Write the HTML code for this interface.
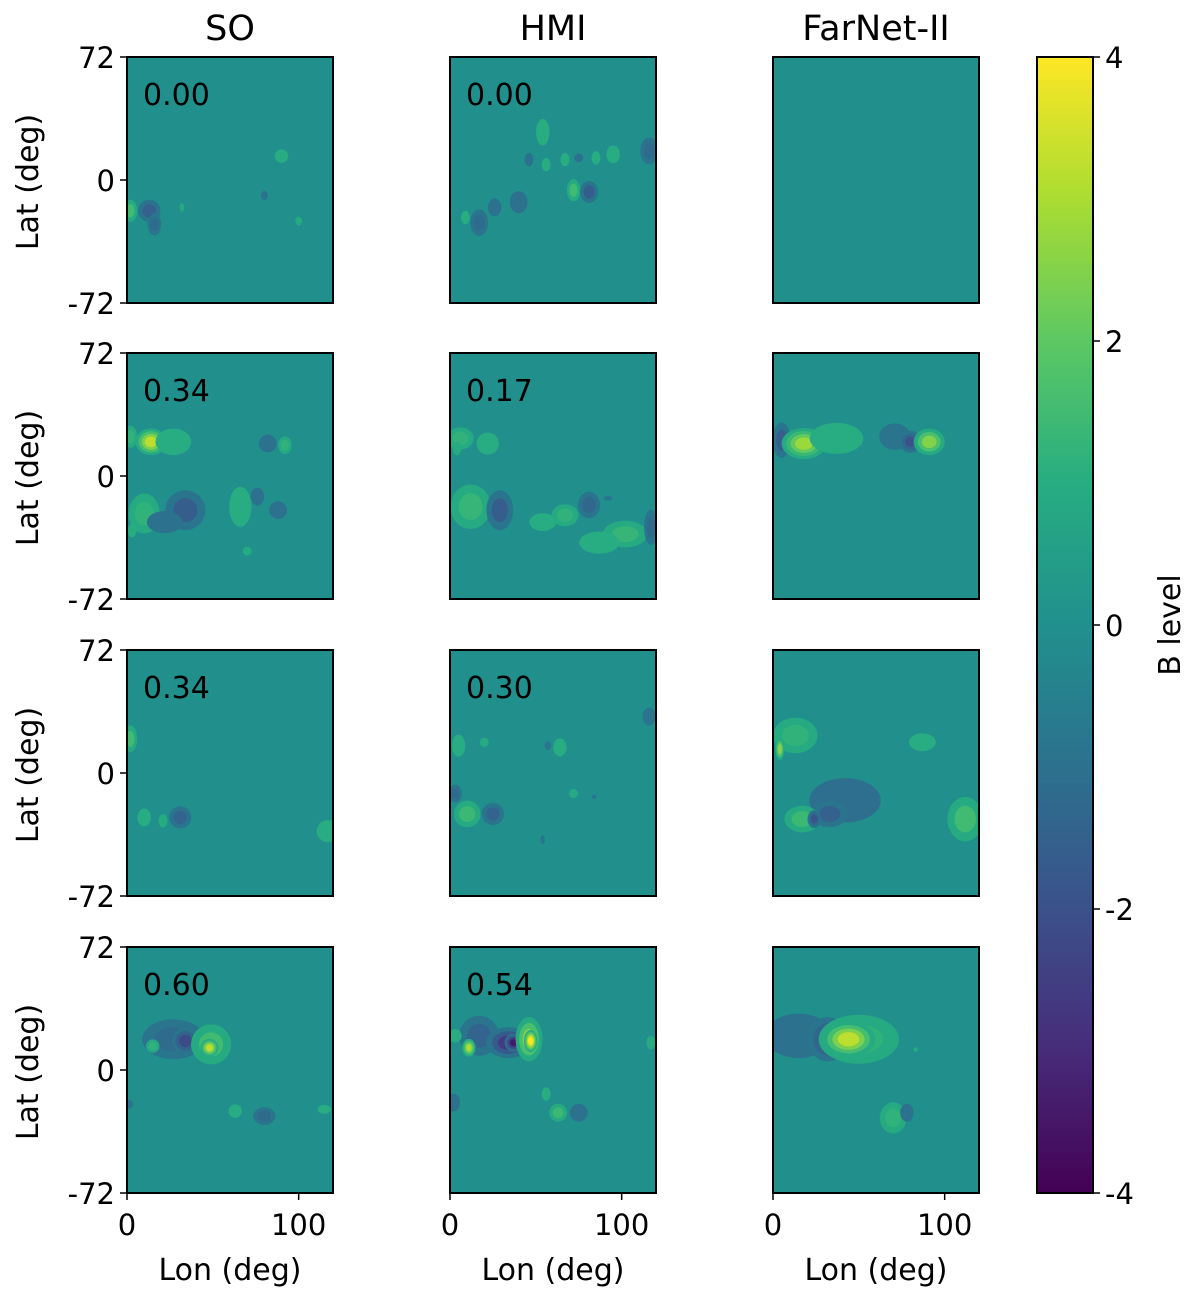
<!DOCTYPE html>
<html><head><meta charset="utf-8"><style>
body{margin:0;background:#fff;}
svg text{font-family:"DejaVu Sans","Liberation Sans",sans-serif;}
</style></head><body>
<svg id="fig" width="1200" height="1298" viewBox="0 0 1200 1298" xmlns="http://www.w3.org/2000/svg">
<defs>
<linearGradient id="cbg" x1="0" y1="1" x2="0" y2="0">
<stop offset="0" stop-color="#440154"/><stop offset="0.125" stop-color="#472c7a"/><stop offset="0.25" stop-color="#3b518b"/><stop offset="0.375" stop-color="#2c718e"/><stop offset="0.5" stop-color="#21908d"/><stop offset="0.625" stop-color="#27ad81"/><stop offset="0.75" stop-color="#5cc863"/><stop offset="0.875" stop-color="#aadc32"/><stop offset="1" stop-color="#fde725"/>
</linearGradient>
</defs>
</svg>
<script>
// column titles, row scores
const colTitles = ["SO","HMI","FarNet-II"];
const scores = [["0.00","0.00",""],["0.34","0.17",""],["0.34","0.30",""],["0.60","0.54",""]];
const lonTicks = [0,100];
const latTicks = [72,0,-72];
const cbTicks = [4,2,0,-2,-4];
// blobs per panel: [lon, lat, rxDeg, ryDeg, value]
const blobs00 = [[2,-18,3,5,1.5],[13,-18,5,5,-1.5],[16,-26,3,5,-1.2],[90,14,3,3,1],[32,-16,1,2,0.8],[80,-9,1.5,2,-1],[100,-24,1.5,2,0.8]];
const blobs01 = [[54,28,3,6,1],[46,12,2,3,-1],[67,12,2,3,1],[75,13,2,2,-1],[85,13,2,3,1],[95,15,3,4,1],[116,17,4,6,-1.2],[56,9,2,3,1],[72,-6,3,5,1.5],[81,-7,4,5,-1.6],[40,-13,4,5,-1],[26,-16,3,4,-1],[17,-25,4,6,-1.2],[9,-22,2,3,1]];
const blobs02 = [];
const blobs10 = [[2,23,3,5,1.2],[14,20,7,6,3.2],[27,20,8,6,1],[82,19,4,4,-1],[92,18,3,4,1.2],[10,-22,7,9,1.2],[34,-20,9,9,-1.6],[22,-27,8,5,-1],[66,-18,5,9,1],[76,-12,3,4,-1],[88,-20,4,4,-1],[70,-44,2,2,0.6],[3,-32,2,3,1]];
const blobs11 = [[6,22,6,5,1.2],[22,19,5,5,1],[4,16,2,3,0.8],[12,-18,9,10,1.3],[29,-20,6,9,-1.6],[81,-17,5,6,-1.3],[67,-23,6,5,1.2],[54,-27,6,4,1],[102,-34,10,6,1.3],[87,-39,9,5,1],[117,-30,3,8,-1.2],[92,-13,2,1,-0.6]];
const blobs12 = [[5,21,4,8,-1.6],[18,19,10,7,2.8],[37,22,12,7,1],[71,23,7,6,-0.9],[80,20,5,5,-2],[91,20,7,6,2.5]];
const blobs20 = [[2,20,3,6,1.5],[10,-26,3,4,1],[31,-26,5,5,-1.4],[21,-28,2,3,0.8],[117,-34,5,5,1]];
const blobs21 = [[116,33,3,4,-0.8],[5,16,3,5,1],[20,18,2,2,0.8],[64,15,3,4,1],[57,16,1.5,2,-0.8],[3,-12,3,4,-1.2],[10,-24,6,6,1.4],[25,-24,5,5,-1.4],[72,-12,2,2,0.7],[84,-14,1,1,-0.6],[54,-39,1,2,-0.7]];
const blobs22 = [[13,22,10,8,1.2],[4,14,2,5,2.5],[87,18,6,4,1],[42,-16,16,10,-1.1],[33,-24,8,6,-1.5],[17,-27,8,6,1.4],[24,-27,3,4,-2],[112,-27,8,10,1.5]];
const blobs30 = [[27,18,14,9,-1.2],[34,17,6,6,-2.2],[49,15,9,9,1.5],[48,13,4,4,3.2],[15,14,3,3,1.2],[1,-20,2,2,-0.8],[63,-24,3,3,1],[80,-27,5,4,-1.2],[115,-23,3,2,1]];
const blobs31 = [[17,20,9,9,-1.4],[34,16,10,7,-2.6],[37,16,4,4,-3.5],[46,18,6,10,2.5],[47,17,3,5,4],[11,13,3,4,3],[3,20,3,3,1],[2,-19,3,4,-1],[56,-14,2,3,1],[63,-25,4,4,1.4],[75,-25,4,4,-1],[117,16,2,3,0.8]];
const blobs32 = [[15,20,15,10,-1],[32,18,9,10,-2],[36,20,3,6,-3.2],[50,18,18,11,1.2],[44,18,12,8,3.2],[83,12,1,1,0.8],[70,-28,6,7,1.2],[78,-25,3,4,-1]];
const panelBlobs = [[blobs00,blobs01,blobs02],[blobs10,blobs11,blobs12],[blobs20,blobs21,blobs22],[blobs30,blobs31,blobs32]];

const NS="http://www.w3.org/2000/svg";
const svg=document.getElementById('fig');
const colX=[127,450,773], rowY=[57,353,650,947], PW=206, PH=246;
const SZ=1.3, STEP=0.75;
const stops=[[0,[68,1,84]],[0.125,[71,44,122]],[0.25,[59,81,139]],[0.375,[44,113,142]],[0.5,[33,144,141]],[0.625,[39,173,129]],[0.75,[92,200,99]],[0.875,[170,220,50]],[1,[253,231,37]]];
function cmap(v){let t=Math.max(0,Math.min(1,(v+4)/8));for(let i=1;i<stops.length;i++){if(t<=stops[i][0]){const a=stops[i-1],b=stops[i];const f=(t-a[0])/(b[0]-a[0]);const c=a[1].map((x,k)=>Math.round(x+(b[1][k]-x)*f));return `rgb(${c})`;}}return 'rgb(253,231,37)';}
function mk(tag,attrs,parent){const e=document.createElementNS(NS,tag);for(const k in attrs)e.setAttribute(k,attrs[k]);(parent||svg).appendChild(e);return e;}
function xs(c,lon){return colX[c]+lon*(PW/120);}
function ys(r,lat){return rowY[r]+(72-lat)*(PH/144);}
function txt(x,y,s,size,anchor,parent){const t=mk('text',{x:x,y:y,'font-size':size,'text-anchor':anchor||'middle',fill:'#000'},parent);t.textContent=s;return t;}

colTitles.forEach((s,c)=>{const t=txt(colX[c]+PW/2,40,s,35);

});

for(let r=0;r<4;r++)for(let c=0;c<3;c++){
  const g=mk('g',{});
  
  
  const cp=mk('clipPath',{id:'cp'+r+c},g);mk('rect',{x:colX[c],y:rowY[r],width:PW,height:PH},cp);
  mk('rect',{x:colX[c],y:rowY[r],width:PW,height:PH,fill:'#21908d'},g);
  const bg=mk('g',{'clip-path':`url(#cp${r}${c})`},g);
  panelBlobs[r][c].forEach(b=>{
    const [lon,lat,rx,ry,v]=b; const n=Math.max(1,Math.round(Math.abs(v)/STEP)); const sg=Math.sign(v);
    for(let i=1;i<=n;i++){const lv=sg*Math.max(0.9,Math.abs(v)*i/n);const s=1-0.8*(i-1)/n;
      const e=mk('ellipse',{cx:xs(c,lon),cy:ys(r,lat),rx:rx*SZ*(PW/120)*s,ry:ry*SZ*(PH/144)*s,fill:cmap(lv)},bg);
      
      }
  });
  mk('rect',{x:colX[c],y:rowY[r],width:PW,height:PH,fill:'none',stroke:'#000','stroke-width':2},g);
  if(scores[r][c]){const t=txt(colX[c]+16,rowY[r]+48,scores[r][c],30,'start',g);
    
    }
  if(c===0){
    latTicks.forEach(l=>{const y=ys(r,l);mk('line',{x1:colX[0]-7,x2:colX[0],y1:y,y2:y,stroke:'#000','stroke-width':1.5},g);
      const t=txt(colX[0]-12,y+11,String(l),29,'end',g);
      
      });
    const yt=txt(0,0,'Lat (deg)',30,'middle',g);yt.setAttribute('transform',`translate(38,${rowY[r]+PH/2+2}) rotate(-90)`);
    
    
  }
  if(r===3){
    lonTicks.forEach(l=>{const x=xs(c,l);mk('line',{x1:x,x2:x,y1:rowY[3]+PH,y2:rowY[3]+PH+7,stroke:'#000','stroke-width':1.5},g);
      const t=txt(x,rowY[3]+PH+42,String(l),29,'middle',g);
      
      });
    const xt=txt(colX[c]+PW/2,1280,'Lon (deg)',30,'middle',g);
    
    
  }
}
// colorbar
const cb=mk('g',{});


const cbX=1037,cbY=57,cbW=56,cbH=1136;
mk('rect',{x:cbX,y:cbY,width:cbW,height:cbH,fill:'url(#cbg)',stroke:'#000','stroke-width':2},cb);
cbTicks.forEach(v=>{const y=cbY+(4-v)/8*cbH;mk('line',{x1:cbX+cbW,x2:cbX+cbW+7,y1:y,y2:y,stroke:'#000','stroke-width':1.5},cb);
  const t=txt(cbX+cbW+12,y+11,String(v),29,'start',cb);
  
  });
const cbt=txt(0,0,'B level',30,'middle',cb);cbt.setAttribute('transform',`translate(1180,${cbY+cbH/2}) rotate(-90)`);


</script>
</body></html>
